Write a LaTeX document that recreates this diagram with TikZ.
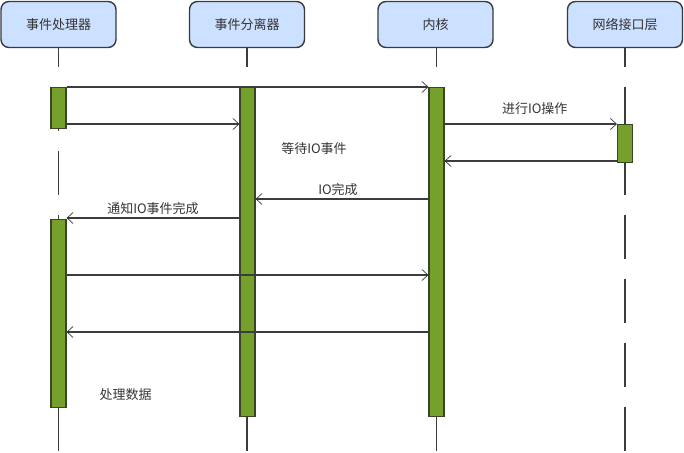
\documentclass[tikz,border=0pt]{standalone}
\usepackage{fontspec}
\newfontfamily\cjk{Noto Sans CJK SC}
\usetikzlibrary{arrows.meta}
\definecolor{hdrfill}{HTML}{CCE0FF}
\definecolor{hdrdraw}{HTML}{36393D}
\definecolor{barfill}{HTML}{76A02C}
\definecolor{bardraw}{HTML}{3A4528}
\definecolor{linecol}{HTML}{3C3C3C}
\definecolor{txt}{HTML}{333333}
\tikzset{
  hdr/.style={draw=hdrdraw, fill=hdrfill, line width=1.4pt, rounded corners=8pt,
    minimum width=115pt, minimum height=46pt, inner sep=0pt,
    font=\cjk\fontsize{13}{15}\selectfont, text=txt},
  life/.style={draw=linecol, line width=1.6pt, dash pattern=on 44pt off 20pt, dash phase=25pt},
  actbar/.style={draw=bardraw, fill=barfill, line width=1.1pt, minimum width=15pt, inner sep=0pt, anchor=north},
  msg/.style={draw=linecol, line width=1.3pt, -{Straight Barb[length=6pt,width=11pt,line width=0.7pt]}},
  lbl/.style={font=\cjk\fontsize{13}{15}\selectfont, text=txt, inner sep=0pt}
}
\begin{document}
\begin{tikzpicture}[x=1pt,y=-1pt]
\useasboundingbox (0,0) rectangle (684,452);
% headers
\node[hdr] (h1) at (58.5,24.5) {事件处理器};
\node[hdr] (h2) at (247,24.5) {事件分离器};
\node[hdr] (h3) at (435.5,24.5) {内核};
\node[hdr] (h4) at (625,24.5) {网络接口层};
% lifeline ends
\coordinate (e1) at (58.5,452);
\coordinate (e2) at (247,452);
\coordinate (e3) at (436.5,452);
\coordinate (e4) at (625,452);
\draw[life] (h1.south) -- (e1);
\draw[life] (h2.south) -- (e2);
\draw[life] (h3.south -| e3) -- (e3);
\draw[life] (h4.south) -- (e4);
% activation bars
\node[actbar, minimum height=41pt] (b1) at (58.5,87) {};
\node[actbar, minimum height=188pt] (b1b) at (58.5,219) {};
\node[actbar, minimum height=329pt] (b2) at (247.5,87) {};
\node[actbar, minimum height=329pt] (b3) at (436.5,87) {};
\node[actbar, minimum height=38pt] (b4) at (625,124) {};
% message levels
\coordinate (y87) at (0,87);
\coordinate (y124) at (0,124);
\coordinate (y161) at (0,161);
\coordinate (y199) at (0,199);
\coordinate (y218) at (0,218);
\coordinate (y275) at (0,275);
\coordinate (y332) at (0,332);
% messages
\draw[msg] (b1.east |- y87) -- (b3.west |- y87);
\draw[msg] (b1.east |- y124) -- (b2.west |- y124);
\draw[msg] (b3.east |- y124) -- node[lbl, above=9pt, xshift=4pt] (l1) {进行IO操作} (b4.west |- y124);
\draw[msg] (b4.west |- y161) -- (b3.east |- y161);
\draw[msg] (b3.west |- y199) -- node[lbl, above=3pt, xshift=-4pt] (l2) {IO完成} (b2.east |- y199);
\draw[msg] (b2.west |- y218) -- node[lbl, above=3pt] (l3) {通知IO事件完成} (b1b.east |- y218);
\draw[msg] (b1b.east |- y275) -- (b3.west |- y275);
\draw[msg] (b3.west |- y332) -- (b1b.east |- y332);
% free labels
\node[lbl] (l4) at (314,149) {等待IO事件};
\node[lbl] (l5) at (125.5,394.5) {处理数据};
\end{tikzpicture}
\end{document}
